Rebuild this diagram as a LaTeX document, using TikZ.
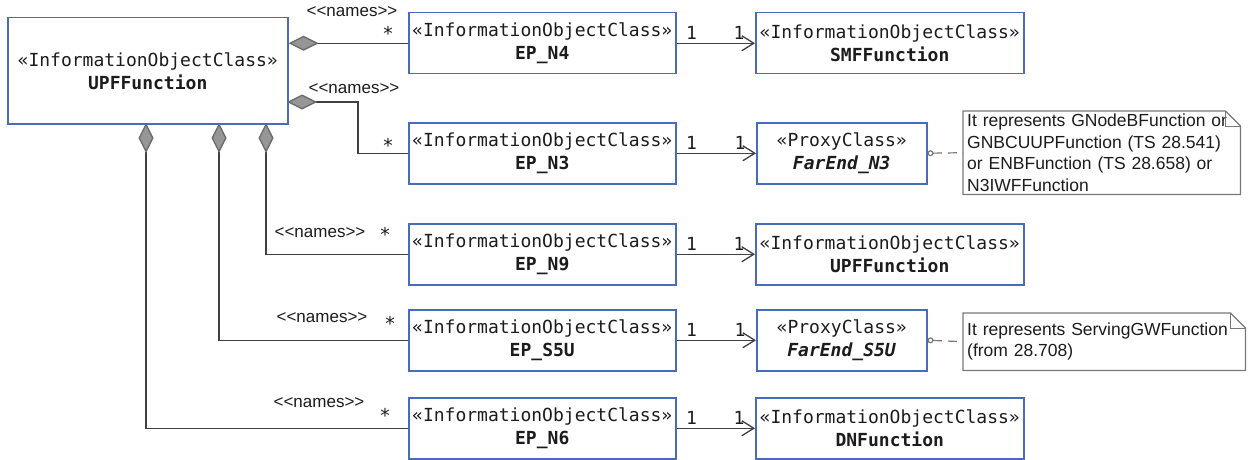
\documentclass[tikz,border=0pt]{standalone}
\usepackage{fontspec}
\newfontfamily\sansf{Liberation Sans}
\newfontfamily\monof{DejaVu Sans Mono}
\usetikzlibrary{arrows.meta}
\definecolor{boxblue}{RGB}{72,108,186}
\definecolor{linegray}{RGB}{64,64,64}
\definecolor{diafill}{RGB}{150,150,150}
\definecolor{diaedge}{RGB}{105,105,105}
\definecolor{notegray}{RGB}{120,120,120}
\definecolor{txt}{RGB}{28,28,28}
\begin{document}
\begin{tikzpicture}[x=1pt,y=-1pt,
  cls/.style={draw=boxblue, line width=1.5pt, fill=white, inner sep=0pt, align=center,
    text=txt, font=\monof\fontsize{18}{23}\selectfont, anchor=north west},
  epbox/.style={cls, minimum width=267pt, minimum height=61pt},
  tgtbox/.style={cls, minimum width=268pt, minimum height=61pt},
  proxybox/.style={cls, minimum width=170pt, minimum height=61pt},
  comp/.style={draw=linegray, line width=1.3pt, line join=miter,
    arrows={{Diamond[length=30pt,width=15pt,fill=diafill,color=diaedge]}-}},
  assoc/.style={draw=linegray, line width=1.3pt,
    arrows={-{Straight Barb[length=12pt,width=15pt,line width=1.3pt]}}},
  notelink/.style={draw=notegray, line width=1.2pt, dash pattern=on 9pt off 6pt,
    arrows={{Circle[open,length=6pt,width=6pt]}-}},
  notebox/.style={inner xsep=4pt, inner ysep=0pt, align=left, text=txt,
    font=\sansf\fontsize{17.5}{21.5}\selectfont, anchor=north west},
  noteline/.style={draw=notegray, line width=1.2pt, line join=miter},
  lbl/.style={font=\sansf\fontsize{17}{17}\selectfont, text=txt, inner sep=0pt},
  star/.style={font=\monof\fontsize{19}{19}\selectfont, text=txt, inner sep=0pt},
  mult/.style={font=\monof\fontsize{18}{18}\selectfont, text=txt, inner sep=0pt}
]
\useasboundingbox[fill=white] (0,0) rectangle (1248,460);

% main class
\node[cls, minimum width=280pt, minimum height=106pt] (upf) at (7,17)
  {«InformationObjectClass»\\ \textbf{UPFFunction}};

% end point classes
\node[epbox] (epn4) at (408,12) {«InformationObjectClass»\\ \textbf{EP\_N4}};
\node[epbox] (epn3) at (408,122) {«InformationObjectClass»\\ \textbf{EP\_N3}};
\node[epbox] (epn9) at (408,223) {«InformationObjectClass»\\ \textbf{EP\_N9}};
\node[epbox] (eps5u) at (408,309) {«InformationObjectClass»\\ \textbf{EP\_S5U}};
\node[epbox] (epn6) at (408,397) {«InformationObjectClass»\\ \textbf{EP\_N6}};

% targets
\node[tgtbox] (smf) at (755,12) {«InformationObjectClass»\\ \textbf{SMFFunction}};
\node[proxybox] (fn3) at (756,122) {«ProxyClass»\\ \textbf{\textit{FarEnd\_N3}}};
\node[tgtbox] (upf2) at (755,223) {«InformationObjectClass»\\ \textbf{UPFFunction}};
\node[proxybox] (fs5u) at (756,309) {«ProxyClass»\\ \textbf{\textit{FarEnd\_S5U}}};
\node[tgtbox] (dnf) at (755,397) {«InformationObjectClass»\\ \textbf{DNFunction}};

% notes
\node[notebox, text width=269pt, minimum height=83pt] (note1) at (963,111)
  {It represents GNodeBFunction or\\ GNBCUUPFunction (TS 28.541)\\ or ENBFunction (TS 28.658) or\\ N3IWFFunction};
\node[notebox, text width=274pt, minimum height=57pt] (note2) at (963,313)
  {It represents ServingGWFunction\\ (from 28.708)};
\foreach \n in {note1,note2}{
  \draw[noteline] (\n.north west) -- ([xshift=-15pt]\n.north east)
    -- ([yshift=-15pt]\n.north east) -- (\n.south east) -- (\n.south west) -- cycle;
  \draw[noteline, line width=0.9pt] ([xshift=-15pt]\n.north east)
    -- ([xshift=-15pt,yshift=-15pt]\n.north east) -- ([yshift=-15pt]\n.north east);
}

% composition anchors on the UPFFunction box
\coordinate (a1) at (upf.east |- epn4.west);
\coordinate (a2) at (287,102);
\coordinate (a3) at (266,123);
\coordinate (a4) at (219,123);
\coordinate (a5) at (146,123);

\draw[comp] (a1) -- (epn4.west);
\draw[comp] (a2) -- ++(71,0) |- (epn3.west);
\draw[comp] (a3) |- (epn9.west);
\draw[comp] (a4) |- (eps5u.west);
\draw[comp] (a5) |- (epn6.west);

% names labels and multiplicities
\node[lbl] (nm1) at (352,12) {<<names>>};
\node[star] (st1) at (388,33) {*};
\node[lbl] (nm2) at (354,89) {<<names>>};
\node[star] (st2) at (388,145) {*};
\node[lbl] (nm3) at (320,233) {<<names>>};
\node[star] (st3) at (385,234) {*};
\node[lbl] (nm4) at (322,318) {<<names>>};
\node[star] (st4) at (390,323) {*};
\node[lbl] (nm5) at (319,403) {<<names>>};
\node[star] (st5) at (385,415) {*};

% associations
\draw[assoc] (epn4.east) -- (smf.west);
\draw[assoc] (epn3.east) -- (fn3.west);
\draw[assoc] (epn9.east) -- (upf2.west);
\draw[assoc] (eps5u.east) -- (fs5u.west);
\draw[assoc] (epn6.east) -- (dnf.west);

\foreach \s/\t in {epn4/smf,epn3/fn3,epn9/upf2,eps5u/fs5u,epn6/dnf}{
  \node[mult] at ([xshift=15pt,yshift=10pt]\s.east) {1};
  \node[mult] at ([xshift=-16pt,yshift=10pt]\t.west) {1};
}

% note links
\draw[notelink] (fn3.east) -- (note1.west);
\draw[notelink] (fs5u.east) -- (note2.west);
\end{tikzpicture}
\end{document}
